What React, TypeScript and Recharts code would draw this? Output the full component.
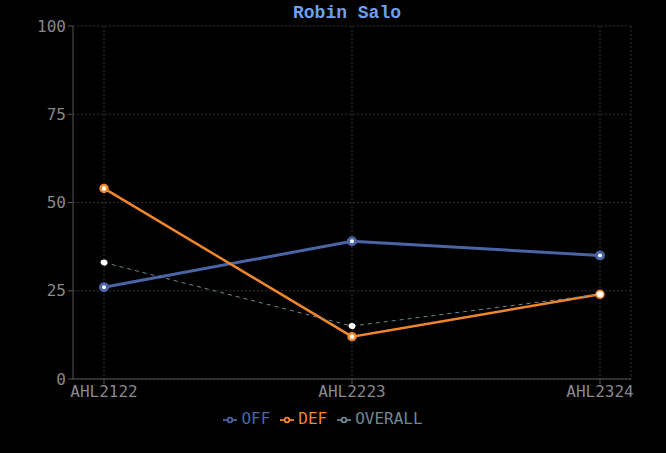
import { LineChart, Line, XAxis, YAxis, CartesianGrid, Legend } from "recharts";

document.body.style.margin = "0";
document.body.style.background = "#000";

const seasons = ["AHL2122", "AHL2223", "AHL2324"];
const offValues = [26, 39, 35];
const defValues = [54, 12, 24];
const overallValues = [33, 15, 24];
const yTicks = [0, 25, 50, 75, 100];

const data = seasons.map((season, i) => ({
  season,
  OFF: offValues[i],
  DEF: defValues[i],
  OVERALL: overallValues[i],
}));

const OFF_COLOR = "#4a64a6";
const DEF_COLOR = "#f0862a";
const OVERALL_COLOR = "#6f8793";
const mono = "'DejaVu Sans Mono', monospace";
const X_PAD = 31;

// grid lines at each category plus one on the right edge of the plot
function gridX(props: any) {
  const { offset } = props;
  const inner = offset.width - 2 * X_PAD;
  const step = inner / (seasons.length - 1);
  const pts = seasons.map((_, i) => offset.left + X_PAD + i * step);
  pts.push(offset.left + offset.width);
  return pts;
}

export default function App() {
  return (
    <div style={{ position: "relative", width: 666, height: 453, background: "#000" }}>
      <div
        style={{
          position: "absolute",
          top: 3,
          left: 14,
          width: 666,
          textAlign: "center",
          fontFamily: "'Liberation Mono', monospace",
          fontWeight: "bold",
          fontSize: 18,
          color: "#6e9ff0",
        }}
      >
        Robin Salo
      </div>
      <LineChart
        width={666}
        height={453}
        data={data}
        margin={{ top: 26, right: 35, left: 5, bottom: 25 }}
      >
        <CartesianGrid
          stroke="#2e2e2e"
          strokeDasharray="2 2"
          verticalCoordinatesGenerator={gridX}
        />
        <XAxis
          dataKey="season"
          padding={{ left: X_PAD, right: X_PAD }}
          stroke="#555"
          tick={{ fill: "#888", fontSize: 16, fontFamily: mono }}
          tickSize={5}
          height={30}
        />
        <YAxis
          domain={[0, 100]}
          ticks={yTicks}
          stroke="#555"
          tick={{ fill: "#888", fontSize: 16, fontFamily: mono }}
          tickSize={5}
          width={68}
        />
        <Legend
          iconSize={14}
          itemSorter={null}
          wrapperStyle={{ fontFamily: mono, fontSize: 16, paddingLeft: 10 }}
        />
        <Line
          dataKey="OFF"
          stroke={OFF_COLOR}
          strokeWidth={3}
          dot={{ r: 3.5, fill: "#fff", stroke: OFF_COLOR, strokeWidth: 3 }}
          activeDot={false}
          isAnimationActive={false}
        />
        <Line
          dataKey="DEF"
          stroke={DEF_COLOR}
          strokeWidth={2.5}
          dot={{ r: 3.5, fill: "#fff", stroke: DEF_COLOR, strokeWidth: 2.5 }}
          activeDot={false}
          isAnimationActive={false}
        />
        <Line
          dataKey="OVERALL"
          stroke={OVERALL_COLOR}
          strokeWidth={1}
          strokeDasharray="4 4"
          dot={{ r: 3, fill: "#fff", stroke: "#fff", strokeWidth: 1 }}
          activeDot={false}
          isAnimationActive={false}
        />
      </LineChart>
    </div>
  );
}
